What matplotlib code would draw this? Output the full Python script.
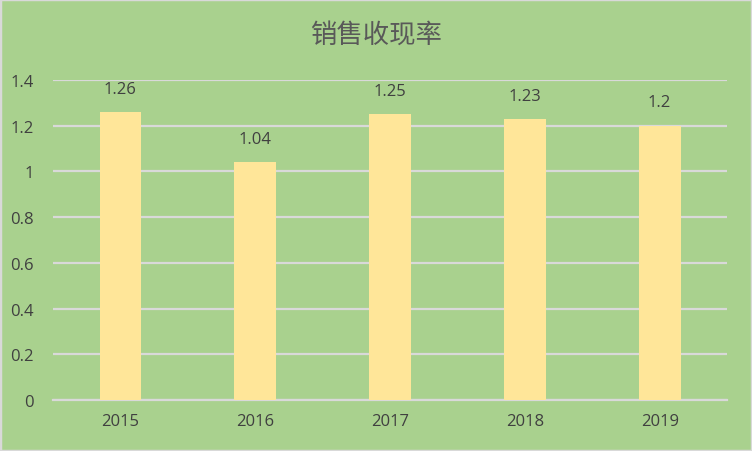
import matplotlib
matplotlib.use("Agg")
import matplotlib.pyplot as plt
from matplotlib.patches import Rectangle

plt.rcParams['font.family'] = ['Noto Sans CJK SC', 'DejaVu Sans']

# data
years = ['2015', '2016', '2017', '2018', '2019']
ratio = [1.26, 1.04, 1.25, 1.23, 1.2]
ratio_labels = ['1.26', '1.04', '1.25', '1.23', '1.2']
y_ticks = [0, 0.2, 0.4, 0.6, 0.8, 1, 1.2, 1.4]
y_tick_labels = ['0', '0.2', '0.4', '0.6', '0.8', '1', '1.2', '1.4']

bg = '#A9D18E'
bar_col = '#FFE699'
grid_col = '#D9D9D9'
txt_col = '#404040'

fig = plt.figure(figsize=(7.52, 4.52), dpi=100, facecolor=bg)
fig.patches.append(Rectangle((0, 0), 1, 1, transform=fig.transFigure,
                             fill=False, edgecolor='#D9D9D9', linewidth=2.5))

ax = fig.add_axes([0.0705, 0.1128, 0.8963, 0.708])
ax.set_facecolor(bg)

x = range(len(years))
ax.bar(x, ratio, width=0.31, color=bar_col, zorder=3)

for i, (v, lab) in enumerate(zip(ratio, ratio_labels)):
    ax.annotate(lab, (i, v), xytext=(0, 11), textcoords='offset points',
                ha='center', va='bottom', fontsize=12, color=txt_col,
                family='Open Sans')

ax.set_xlim(-0.5, len(years) - 0.5)
ax.set_ylim(0, 1.4)
ax.set_yticks(y_ticks)
ax.set_yticklabels(y_tick_labels, family='Open Sans', fontsize=12, color=txt_col)
ax.set_xticks(list(x))
ax.set_xticklabels(years, family='Open Sans', fontsize=12, color=txt_col)
ax.tick_params(length=0, pad=9)
ax.tick_params(axis='y', pad=14)

ax.yaxis.grid(True, color=grid_col, linewidth=1.6, zorder=0)
for s in ['top', 'right', 'left']:
    ax.spines[s].set_visible(False)
ax.spines['bottom'].set_color(grid_col)
ax.spines['bottom'].set_linewidth(1.6)

fig.text(0.5, 0.922, '销售收现率', ha='center', va='center', fontsize=19,
         color='#595959')

fig.savefig('out.png', dpi=100, facecolor=bg)
